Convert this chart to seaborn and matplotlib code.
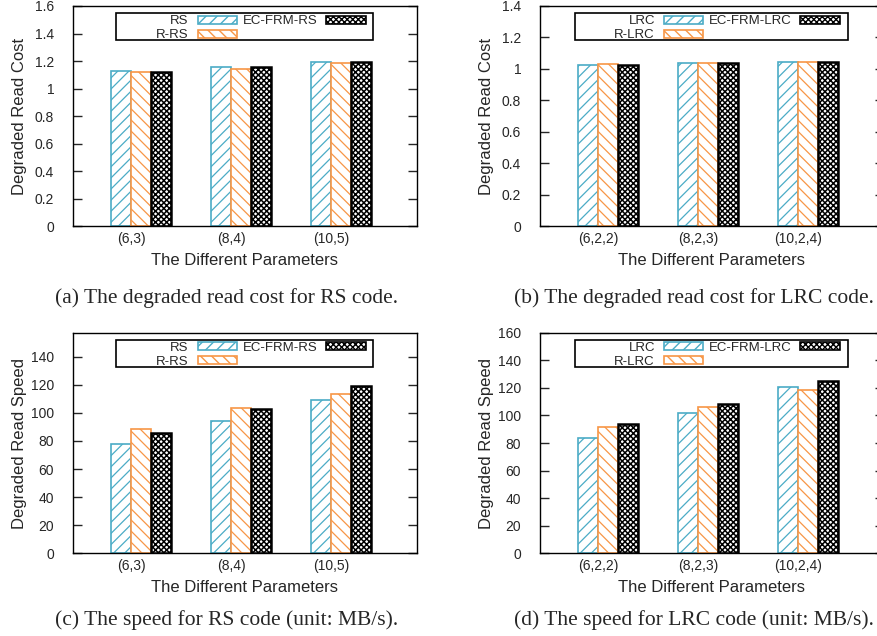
import numpy as np
import pandas as pd
import matplotlib
matplotlib.use('Agg')
import matplotlib.pyplot as plt
import seaborn as sns
from matplotlib.patches import Patch, Rectangle

sns.set_style('ticks')
plt.rcParams['font.family'] = ['Liberation Sans', 'DejaVu Sans']
plt.rcParams['hatch.linewidth'] = 1.0

# data
rs_params = ['(6,3)', '(8,4)', '(10,5)']
lrc_params = ['(6,2,2)', '(8,2,3)', '(10,2,4)']
rs_methods = ['RS', 'R-RS', 'EC-FRM-RS']
lrc_methods = ['LRC', 'R-LRC', 'EC-FRM-LRC']

rs_cost_rs = [1.127, 1.156, 1.193]
rs_cost_rrs = [1.122, 1.146, 1.183]
rs_cost_ec = [1.120, 1.154, 1.193]

lrc_cost_lrc = [1.026, 1.039, 1.045]
lrc_cost_rlrc = [1.032, 1.039, 1.045]
lrc_cost_ec = [1.026, 1.039, 1.045]

rs_speed_rs = [78.1, 94.0, 108.9]
rs_speed_rrs = [88.3, 103.2, 113.4]
rs_speed_ec = [85.6, 102.7, 118.9]

lrc_speed_lrc = [83.9, 102.0, 120.8]
lrc_speed_rlrc = [91.8, 105.9, 118.4]
lrc_speed_ec = [94.0, 108.5, 125.2]

colors = ['#4bacc6', '#f79646', 'black']
hatches = ['///', '\\\\\\', 'xxxxxx']
widths = [1.2, 1.2, 1.8]
hatch_lw = [0.9, 0.9, 1.1]


def long_df(params, methods, series):
    rows = []
    for m, vals in zip(methods, series):
        for p, v in zip(params, vals):
            rows.append({'param': p, 'method': m, 'value': v})
    return pd.DataFrame(rows)


def style_patch(p, c, h, lw, hlw):
    p.set_facecolor('white')
    p.set_edgecolor(c)
    p.set_hatch(h)
    p.set_linewidth(lw)
    if hasattr(p, 'set_hatch_linewidth'):
        p.set_hatch_linewidth(hlw)


def draw(ax, params, methods, series, ymax, yticks, ylabel, legend_right, frame_x):
    df = long_df(params, methods, series)
    sns.barplot(data=df, x='param', y='value', hue='method', order=params,
                hue_order=methods, width=0.6, errorbar=None, legend=False,
                palette=colors, ax=ax)
    for cont, c, h, lw, hlw in zip(ax.containers, colors, hatches, widths, hatch_lw):
        for bar in cont:
            style_patch(bar, c, h, lw, hlw)
    ax.set_xlim(-0.68, 2.757)
    ax.set_xticks(np.arange(len(params)) - 0.1)
    ax.set_xticklabels(params)
    ax.set_ylim(0, ymax)
    ax.set_yticks(yticks)
    ax.set_yticklabels([f'{t:g}' for t in yticks])
    ax.tick_params(axis='y', direction='in', length=6.5, width=1, left=True,
                   right=True, labelright=False, labelsize=10, pad=13.5)
    ax.tick_params(axis='x', length=0, labelsize=10, pad=4)
    for s in ax.spines.values():
        s.set_visible(True)
        s.set_linewidth(1.0)
        s.set_color('black')
    ax.set_xlabel('The Different Parameters', fontsize=12)
    ax.set_ylabel(ylabel, fontsize=12)
    ax.xaxis.set_label_coords(0.5, -0.12)
    ax.yaxis.set_label_coords(-0.135, 0.5)

    # key box like gnuplot
    ax.add_patch(Rectangle((frame_x[0], 0.846), frame_x[1] - frame_x[0], 0.122,
                           transform=ax.transAxes, facecolor='white',
                           edgecolor='black', linewidth=1.2, zorder=4))
    handles = []
    for c, h, hlw in zip(colors, hatches, hatch_lw):
        hp = Patch()
        style_patch(hp, c, h, 1.2, hlw)
        handles.append(hp)
    leg = ax.legend(handles, methods, ncol=2, markerfirst=False, frameon=False,
                    loc='upper right', bbox_to_anchor=(legend_right, 0.958),
                    borderpad=0, handlelength=3.0, handleheight=0.55,
                    handletextpad=0.68, columnspacing=0.4, labelspacing=0.15,
                    fontsize=9.5, borderaxespad=0)
    leg.set_zorder(5)


fig = plt.figure(figsize=(8.78, 6.36), dpi=100)
ax_a = fig.add_axes([0.0831, 0.6439, 0.3915, 0.3467])
ax_b = fig.add_axes([0.6150, 0.6439, 0.3915, 0.3467])
ax_c = fig.add_axes([0.0831, 0.1300, 0.3915, 0.3469])
ax_d = fig.add_axes([0.6150, 0.1300, 0.3915, 0.3469])

draw(ax_a, rs_params, rs_methods, [rs_cost_rs, rs_cost_rrs, rs_cost_ec],
     1.6, np.round(np.arange(0, 1.61, 0.2), 1), 'Degraded Read Cost', 0.852, (0.125, 0.873))
draw(ax_b, lrc_params, lrc_methods, [lrc_cost_lrc, lrc_cost_rlrc, lrc_cost_ec],
     1.4, np.round(np.arange(0, 1.41, 0.2), 1), 'Degraded Read Cost', 0.873, (0.102, 0.896))
draw(ax_c, rs_params, rs_methods, [rs_speed_rs, rs_speed_rrs, rs_speed_ec],
     157, np.arange(0, 141, 20), 'Degraded Read Speed', 0.852, (0.125, 0.873))
draw(ax_d, lrc_params, lrc_methods, [lrc_speed_lrc, lrc_speed_rlrc, lrc_speed_ec],
     160, np.arange(0, 161, 20), 'Degraded Read Speed', 0.873, (0.102, 0.896))

captions = ['(a) The degraded read cost for RS code.',
            '(b) The degraded read cost for LRC code.',
            '(c) The speed for RS code (unit: MB/s).',
            '(d) The speed for LRC code (unit: MB/s).']
cap_pos = [(0.258, 0.5314), (0.790, 0.5314), (0.258, 0.0252), (0.790, 0.0252)]
for txt, (x, y) in zip(captions, cap_pos):
    fig.text(x, y, txt, ha='center', va='center', family='Liberation Serif',
             fontsize=15.5)

fig.savefig('out.png', dpi=100)
